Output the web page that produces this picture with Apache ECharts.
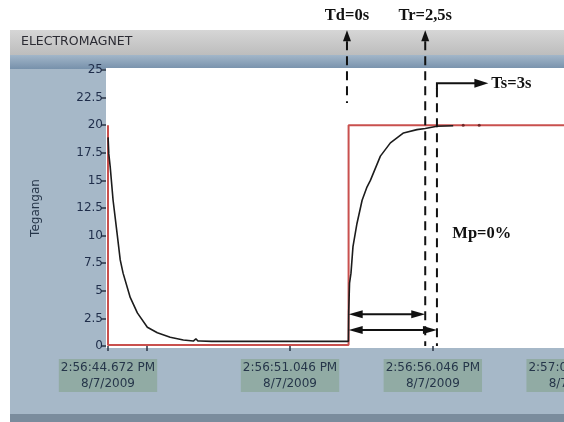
<!DOCTYPE html>
<html><head><meta charset="utf-8">
<script src="https://cdn.jsdelivr.net/npm/echarts@6/dist/echarts.min.js"></script>
<style>
html,body{margin:0;padding:0;overflow:hidden;background:#fff;width:564px;height:422px}
#c{width:640px;height:422px}
</style></head>
<body><div id="c"></div>
<script>
// ---- data ----
const title = 'ELECTROMAGNET';
const yAxisName = 'Tegangan';
const yTicks = [0, 2.5, 5, 7.5, 10, 12.5, 15, 17.5, 20, 22.5, 25];
const tickTimes = [44.672, 46.046, 51.046, 56.046, 61.046];
const labelTimes = [44.672, 51.046, 56.046, 61.046];
const tickLabels = ['2:56:44.672 PM\n8/7/2009', '2:56:51.046 PM\n8/7/2009', '2:56:56.046 PM\n8/7/2009', '2:57:01.046 PM\n8/7/2009'];

const responseTime  = [44.675, 44.70, 44.75, 44.85, 44.99, 45.10, 45.20, 45.45, 45.70, 46.05, 46.40, 46.85, 47.31, 47.66, 47.75, 47.82, 47.90, 48.30, 50.00, 52.00, 53.09, 53.10, 53.13, 53.18, 53.25, 53.39, 53.57, 53.74, 53.86, 54.21, 54.56, 55.02, 55.49, 55.78, 56.19, 56.76];
const responseValue = [18.9, 17.4, 16.2, 13.2, 10.2, 7.8, 6.6, 4.4, 3.0, 1.7, 1.2, 0.8, 0.55, 0.45, 0.65, 0.45, 0.45, 0.42, 0.42, 0.42, 0.42, 3.1, 5.7, 6.6, 9.0, 11.1, 13.2, 14.4, 15.0, 17.2, 18.4, 19.3, 19.6, 19.7, 19.9, 19.95];
const tailDotTime  = [57.11, 57.67];
const tailDotValue = [20, 20];

const setpointTime  = [44.672, 44.672, 53.096, 53.096, 62.6];
const setpointValue = [20, 0.1, 0.1, 20, 20];

const annoLabels = ['Td=0s', 'Tr=2,5s', 'Ts=3s'];
const annoTimes  = [53.04, 55.78, 56.19];
const annoTop    = [28.6, 28.6, 23.8];
const annoBottom = [22.0, 0, 0];
const tsArrowEndTime = 57.99;
const spanStart  = 53.10;
const spanEnds   = [55.78, 56.19];
const spanValues = [2.87, 1.45];
const mpLabel = 'Mp=0%';
const mpTime = 56.73;
const mpValue = 10.2;

// ---- chart ----
const chart = echarts.init(document.getElementById('c'), null, {renderer: 'canvas'});
const FONT = '"DejaVu Sans", Verdana, sans-serif';
const SERIF = '"Liberation Serif", "Times New Roman", serif';

function zip(a, b) { return a.map((v, i) => [v, b[i]]); }
function labelFor(v) {
  let best = 0, d = Infinity;
  labelTimes.forEach((t, i) => { const e = Math.abs(t - v); if (e < d) { d = e; best = i; } });
  return tickLabels[best];
}

chart.setOption({
  animation: false,
  backgroundColor: 'transparent',
  grid: {left: 108, top: 70, height: 276, width: 512, show: false},
  xAxis: {
    type: 'value', min: 44.672, max: 62.6,
    axisLine: {show: false},
    splitLine: {show: false},
    axisTick: {show: true, length: 5, customValues: tickTimes, lineStyle: {color: '#2a3545', width: 1.5}},
    axisLabel: {
      customValues: labelTimes, formatter: labelFor, margin: 13,
      color: '#26364a', fontFamily: FONT, fontSize: 12, lineHeight: 16,
      backgroundColor: '#91aba4', padding: [1, 2, 0, 2], align: 'center'
    }
  },
  yAxis: {
    type: 'value', min: 0, max: 25, interval: 2.5, offset: 2,
    name: yAxisName, nameLocation: 'middle', nameGap: 64, nameRotate: 90,
    nameTextStyle: {color: '#26364a', fontFamily: FONT, fontSize: 12},
    axisLine: {show: false},
    splitLine: {show: false},
    axisTick: {show: true, length: 5, lineStyle: {color: '#2a3545', width: 1.5}},
    axisLabel: {margin: 3, color: '#1f2d4a', fontFamily: FONT, fontSize: 12,
      formatter: v => String(v)}
  },
  series: [
    {type: 'line', name: 'setpoint', data: zip(setpointTime, setpointValue), showSymbol: false,
      lineStyle: {color: '#c9504e', width: 2}, z: 2, clip: false},
    {type: 'line', name: 'response', data: zip(responseTime, responseValue), showSymbol: false,
      lineStyle: {color: '#1c1c1c', width: 1.6}, z: 3},
    {type: 'scatter', name: 'dots', data: zip(tailDotTime, tailDotValue), symbolSize: 3,
      itemStyle: {color: '#5a1a1a'}, z: 3}
  ]
});

function px(t, v) { return chart.convertToPixel({gridIndex: 0}, [t, v]); }

const g = [];
// panel decoration
g.push({type: 'rect', shape: {x: 10, y: 30, width: 640, height: 392}, style: {fill: '#a6b8c8'}, z: -10});
g.push({type: 'rect', shape: {x: 10, y: 30, width: 640, height: 25},
  style: {fill: new echarts.graphic.LinearGradient(0, 0, 0, 1, [{offset: 0, color: '#d6d6d6'}, {offset: 1, color: '#bdbdbd'}])}, z: -9});
g.push({type: 'rect', shape: {x: 10, y: 55, width: 640, height: 14},
  style: {fill: new echarts.graphic.LinearGradient(0, 0, 0, 1, [{offset: 0, color: '#a2b6c9'}, {offset: 1, color: '#7791ab'}])}, z: -9});
g.push({type: 'rect', shape: {x: 10, y: 414, width: 640, height: 8}, style: {fill: '#7a8c9d'}, z: -9});
g.push({type: 'rect', shape: {x: 106, y: 68, width: 540, height: 280}, style: {fill: '#ffffff'}, z: -8});
g.push({type: 'text', x: 21, y: 42, style: {text: title, fill: '#2b2b33', font: '12.5px ' + FONT, verticalAlign: 'middle'}, z: -7});

// annotations
const AC = '#111111';
function upHead(x, y) { return {type: 'polygon', shape: {points: [[x, y], [x - 4, y + 11], [x + 4, y + 11]]}, style: {fill: AC}, z: 100}; }
annoLabels.forEach((lab, i) => {
  const top = px(annoTimes[i], annoTop[i]);
  const bot = px(annoTimes[i], annoBottom[i]);
  if (i < 2) {
    g.push(upHead(top[0], top[1]));
    g.push({type: 'line', shape: {x1: top[0], y1: top[1] + 11, x2: bot[0], y2: bot[1]},
      style: {stroke: AC, lineWidth: 2, lineDash: [9, 6]}, z: 100});
    g.push({type: 'text', x: top[0], y: top[1] - 15, style: {text: lab, fill: '#111', font: 'bold 16.5px ' + SERIF, align: 'center', verticalAlign: 'middle'}, z: 100});
  } else {
    const end = px(tsArrowEndTime, annoTop[i]);
    g.push({type: 'line', shape: {x1: top[0], y1: top[1] + 5, x2: bot[0], y2: bot[1]},
      style: {stroke: AC, lineWidth: 2, lineDash: [9, 6]}, z: 100});
    g.push({type: 'polyline', shape: {points: [[top[0], top[1] + 6], [top[0], top[1]], [end[0] - 12, end[1]]]},
      style: {stroke: AC, lineWidth: 2, fill: null}, z: 100});
    g.push({type: 'polygon', shape: {points: [[end[0], end[1]], [end[0] - 14, end[1] - 4.5], [end[0] - 14, end[1] + 4.5]]}, style: {fill: AC}, z: 100});
    g.push({type: 'text', x: end[0] + 3, y: end[1], style: {text: lab, fill: '#111', font: 'bold 16.5px ' + SERIF, align: 'left', verticalAlign: 'middle'}, z: 100});
  }
});
spanEnds.forEach((te, i) => {
  const a = px(spanStart, spanValues[i]);
  const b = px(te, spanValues[i]);
  g.push({type: 'line', shape: {x1: a[0] + 8, y1: a[1], x2: b[0] - 8, y2: b[1]}, style: {stroke: AC, lineWidth: 2}, z: 100});
  g.push({type: 'polygon', shape: {points: [[a[0], a[1]], [a[0] + 14, a[1] - 4], [a[0] + 14, a[1] + 4]]}, style: {fill: AC}, z: 100});
  g.push({type: 'polygon', shape: {points: [[b[0], b[1]], [b[0] - 14, b[1] - 4], [b[0] - 14, b[1] + 4]]}, style: {fill: AC}, z: 100});
});
const mp = px(mpTime, mpValue);
g.push({type: 'text', x: mp[0], y: mp[1], style: {text: mpLabel, fill: '#111', font: 'bold 16.5px ' + SERIF, align: 'left', verticalAlign: 'middle'}, z: 100});

chart.setOption({graphic: g});
</script>
</body></html>
